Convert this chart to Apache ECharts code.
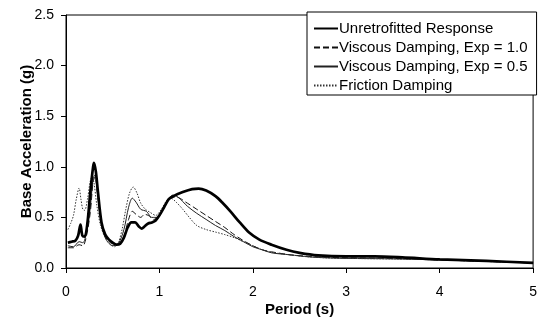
<!DOCTYPE html>
<html>
<head>
<meta charset="utf-8">
<script src="https://cdn.jsdelivr.net/npm/echarts@6/dist/echarts.min.js"></script>
<style>
  html, body { margin: 0; padding: 0; background: #fff; }
  #chart { width: 540px; height: 322px; }
</style>
</head>
<body>
<div id="chart"></div>
<script>
// Response spectra: base acceleration vs. period
const seriesNames = [
  'Unretrofitted Response',
  'Viscous Damping, Exp = 1.0',
  'Viscous Damping, Exp = 0.5',
  'Friction Damping'
];

const periodUnretro = [0.02, 0.06, 0.10, 0.13, 0.155, 0.175, 0.20, 0.23, 0.26, 0.29, 0.30, 0.32, 0.34, 0.38, 0.42, 0.46, 0.50, 0.54, 0.58, 0.62, 0.66, 0.70, 0.74, 0.78, 0.81, 0.84, 0.88, 0.92, 0.96, 1.00, 1.05, 1.10, 1.15, 1.25, 1.35, 1.42, 1.50, 1.60, 1.68, 1.76, 1.86, 1.96, 2.07, 2.20, 2.36, 2.50, 2.70, 3.00, 3.30, 3.60, 4.00, 4.50, 5.00];
const accelUnretro = [0.25, 0.26, 0.27, 0.32, 0.43, 0.32, 0.31, 0.45, 0.75, 1.00, 1.04, 0.95, 0.77, 0.45, 0.33, 0.28, 0.25, 0.23, 0.24, 0.30, 0.40, 0.45, 0.45, 0.41, 0.39, 0.41, 0.44, 0.45, 0.47, 0.52, 0.60, 0.68, 0.71, 0.75, 0.78, 0.785, 0.765, 0.71, 0.64, 0.56, 0.45, 0.35, 0.28, 0.23, 0.18, 0.15, 0.125, 0.115, 0.115, 0.105, 0.085, 0.07, 0.05];

const periodVisc10 = [0.02, 0.08, 0.14, 0.18, 0.22, 0.26, 0.29, 0.31, 0.34, 0.38, 0.43, 0.50, 0.56, 0.62, 0.67, 0.71, 0.75, 0.80, 0.84, 0.88, 0.94, 1.00, 1.06, 1.12, 1.18, 1.30, 1.40, 1.50, 1.60, 1.70, 1.80, 1.90, 2.00, 2.10, 2.20, 2.40, 2.60, 2.80, 3.00, 3.50, 4.00, 4.50, 5.00];
const accelVisc10 = [0.20, 0.20, 0.23, 0.22, 0.32, 0.55, 0.85, 0.90, 0.72, 0.45, 0.30, 0.24, 0.24, 0.32, 0.48, 0.56, 0.53, 0.50, 0.53, 0.52, 0.48, 0.52, 0.62, 0.70, 0.70, 0.64, 0.58, 0.52, 0.46, 0.40, 0.33, 0.27, 0.22, 0.18, 0.16, 0.13, 0.115, 0.105, 0.10, 0.095, 0.08, 0.065, 0.05];

const periodVisc05 = [0.02, 0.08, 0.14, 0.18, 0.22, 0.26, 0.29, 0.31, 0.34, 0.38, 0.43, 0.50, 0.56, 0.62, 0.67, 0.71, 0.75, 0.80, 0.86, 0.92, 0.98, 1.04, 1.10, 1.14, 1.20, 1.30, 1.40, 1.50, 1.60, 1.70, 1.80, 1.90, 2.00, 2.10, 2.20, 2.40, 2.60, 2.80, 3.00, 3.50, 4.00, 4.50, 5.00];
const accelVisc05 = [0.22, 0.21, 0.26, 0.25, 0.35, 0.60, 0.88, 0.92, 0.70, 0.42, 0.28, 0.22, 0.24, 0.38, 0.60, 0.69, 0.65, 0.58, 0.56, 0.50, 0.50, 0.58, 0.68, 0.72, 0.70, 0.61, 0.54, 0.48, 0.42, 0.37, 0.31, 0.26, 0.21, 0.18, 0.15, 0.13, 0.11, 0.10, 0.095, 0.09, 0.08, 0.065, 0.05];

const periodFriction = [0.02, 0.05, 0.08, 0.11, 0.14, 0.16, 0.18, 0.20, 0.23, 0.26, 0.28, 0.30, 0.33, 0.37, 0.42, 0.47, 0.52, 0.56, 0.60, 0.64, 0.68, 0.72, 0.76, 0.80, 0.85, 0.90, 0.96, 1.02, 1.08, 1.12, 1.18, 1.25, 1.32, 1.40, 1.50, 1.60, 1.70, 1.80, 1.90, 2.00, 2.10, 2.20, 2.40, 2.60, 2.80, 3.00, 3.50, 4.00, 4.50, 5.00];
const accelFriction = [0.38, 0.44, 0.52, 0.68, 0.79, 0.68, 0.58, 0.57, 0.68, 0.86, 0.90, 0.84, 0.62, 0.42, 0.30, 0.24, 0.21, 0.25, 0.38, 0.58, 0.74, 0.80, 0.74, 0.64, 0.58, 0.55, 0.52, 0.58, 0.67, 0.69, 0.65, 0.58, 0.50, 0.42, 0.38, 0.355, 0.33, 0.30, 0.26, 0.22, 0.18, 0.155, 0.13, 0.11, 0.10, 0.095, 0.09, 0.08, 0.065, 0.05];

const xTicks = [0, 1, 2, 3, 4, 5];
const yTicks = [0.0, 0.5, 1.0, 1.5, 2.0, 2.5];

const pairs = (xs, ys) => xs.map((x, i) => [x, ys[i]]);

const font = 'Liberation Sans, Arial, sans-serif';

const chart = echarts.init(document.getElementById('chart'), null, { renderer: 'canvas' });

chart.setOption({
  backgroundColor: '#fff',
  animation: false,
  textStyle: { fontFamily: font, color: '#000' },
  grid: {
    left: 66, right: 6, top: 15, bottom: 54,
    show: true, borderColor: '#000', borderWidth: 1, backgroundColor: 'transparent'
  },
  legend: {
    orient: 'vertical',
    left: 307, top: 12,
    padding: [8, 9, 1, 6],
    itemGap: 2,
    itemWidth: 24, itemHeight: 10,
    backgroundColor: '#fff',
    borderColor: '#000', borderWidth: 1,
    itemStyle: { opacity: 0, borderWidth: 0 },
    textStyle: { fontFamily: font, fontSize: 15, color: '#000', padding: [0, 0, 0, -4], lineHeight: 17 },
    data: seriesNames
  },
  xAxis: {
    type: 'value',
    min: xTicks[0], max: xTicks[xTicks.length - 1], interval: 1,
    name: 'Period (s)',
    nameLocation: 'middle', nameGap: 34, nameMoveOverlap: false,
    nameTextStyle: { fontFamily: font, fontSize: 15, fontWeight: 'bold', color: '#000' },
    axisLine: { lineStyle: { color: '#000', width: 1 } },
    axisTick: { show: true, inside: false, length: 5, lineStyle: { color: '#000' } },
    axisLabel: { fontFamily: font, fontSize: 14, color: '#000', margin: 17 },
    splitLine: { show: false }
  },
  yAxis: {
    type: 'value',
    min: yTicks[0], max: yTicks[yTicks.length - 1], interval: 0.5,
    name: 'Base Acceleration (g)',
    nameLocation: 'middle', nameGap: 32, nameMoveOverlap: false,
    nameTextStyle: { fontFamily: font, fontSize: 15, fontWeight: 'bold', color: '#000' },
    axisLine: { show: true, lineStyle: { color: '#000', width: 1 } },
    axisTick: { show: true, inside: false, length: 5, lineStyle: { color: '#000' } },
    axisLabel: { fontFamily: font, fontSize: 14, color: '#000', margin: 12,
      formatter: v => v.toFixed(1) },
    splitLine: { show: false }
  },
  series: [
    {
      name: seriesNames[0], type: 'line', showSymbol: false, symbol: 'none', smooth: 0.3,
      data: pairs(periodUnretro, accelUnretro),
      lineStyle: { color: '#000', width: 2.7 }, itemStyle: { color: '#000' }, z: 5
    },
    {
      name: seriesNames[1], type: 'line', showSymbol: false, symbol: 'none', smooth: 0.3,
      data: pairs(periodVisc10, accelVisc10),
      lineStyle: { color: '#111', width: 1, type: [6, 3] }, itemStyle: { color: '#111' }
    },
    {
      name: seriesNames[2], type: 'line', showSymbol: false, symbol: 'none', smooth: 0.3,
      data: pairs(periodVisc05, accelVisc05),
      lineStyle: { color: '#222', width: 1 }, itemStyle: { color: '#222' }
    },
    {
      name: seriesNames[3], type: 'line', showSymbol: false, symbol: 'none', smooth: 0.3,
      data: pairs(periodFriction, accelFriction),
      lineStyle: { color: '#333', width: 1, type: [1.5, 1.5] }, itemStyle: { color: '#333' }
    }
  ]
});
</script>
</body>
</html>
